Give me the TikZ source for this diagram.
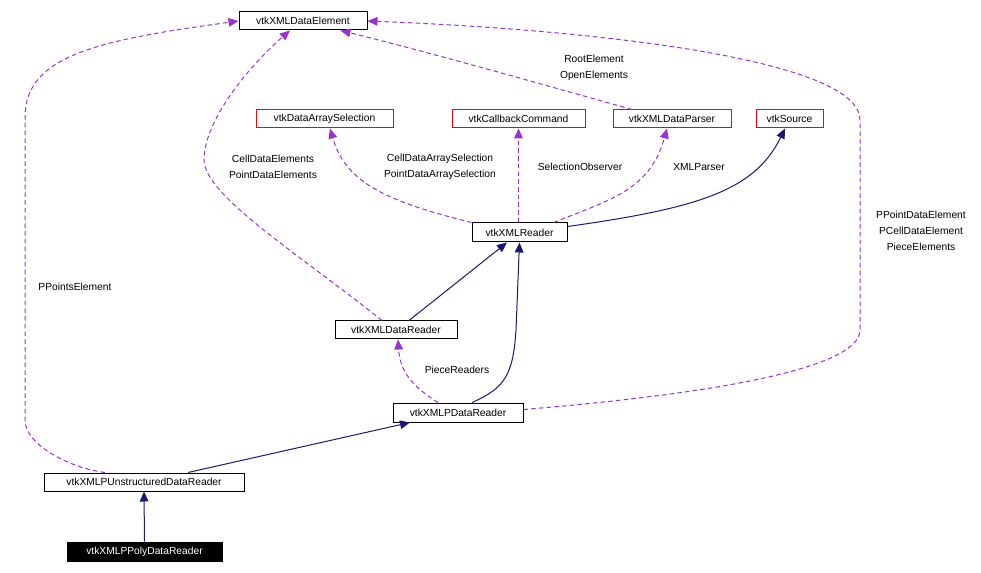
\documentclass[tikz,border=0pt]{standalone}
\usepackage{fontspec}
\setmainfont{Liberation Sans}
\usepackage{tikz}
\usetikzlibrary{arrows.meta,calc}
\definecolor{usecol}{HTML}{9A32CD}
\definecolor{inhcol}{HTML}{191970}
\begin{document}
\begin{tikzpicture}[x=0.75pt,y=-0.75pt,
  cls/.style={draw,rectangle,inner sep=0pt,minimum height=13.5pt,line width=0.75pt,font=\fontsize{7.7}{9}\selectfont},
  ext/.style={cls,draw=red},
  lbl/.style={inner sep=0pt,align=center,font=\fontsize{7.7}{12}\selectfont},
  uses/.style={usecol,line width=0.75pt,dash pattern=on 3.4pt off 2.4pt,-{Triangle[length=7.5pt,width=6.5pt]}},
  isa/.style={inhcol,line width=0.75pt,-{Triangle[length=7.5pt,width=6.5pt]}}]
\useasboundingbox (0,0) rectangle (981,573);
\node[cls,minimum width=96pt] (elem) at (303,21) {vtkXMLDataElement};
\node[ext,minimum width=102.75pt] (das) at (324.5,119) {vtkDataArraySelection};
\node[ext,minimum width=99.75pt] (cbc) at (518.5,119) {vtkCallbackCommand};
\node[ext,minimum width=88.5pt] (parser) at (672,119) {vtkXMLDataParser};
\node[ext,minimum width=50.25pt] (src) at (789.5,119) {vtkSource};
\node[cls,minimum width=71.25pt,minimum height=14.25pt] (reader) at (519.5,232.5) {vtkXMLReader};
\node[cls,minimum width=91.5pt] (dreader) at (396,330) {vtkXMLDataReader};
\node[cls,minimum width=97.5pt,minimum height=14.25pt] (preader) at (458,412.5) {vtkXMLPDataReader};
\node[cls,minimum width=150pt] (ureader) at (144,482) {vtkXMLPUnstructuredDataReader};
\node[cls,minimum width=116.25pt,minimum height=14.25pt,fill=black,text=white] (polyreader) at (144.5,551.5) {vtkXMLPPolyDataReader};
\draw[uses] ($(ureader.north)+(-39,0)$) .. controls (70,468) and (25,445) .. (25,420) -- (25,117) .. controls (25,55) and (100,40) .. (elem.west);
\node[lbl] (lblpoints) at (75,287) {PPointsElement};
\draw[uses] ($(dreader.north)+(-14,0)$) .. controls (300,255) and (204,195) .. (204,160) .. controls (204,120) and (250,65) .. ($(elem.south)+(-13,0)$);
\node[lbl] (lblcell) at (273,167) {CellDataElements\\PointDataElements};
\draw[uses] ($(parser.north)+(-40,0)$) .. controls (520,78) and (420,50) .. ($(elem.south east)+(-27,0)$);
\node[lbl] (lblroot) at (594,68) {RootElement\\OpenElements};
\draw[uses] ($(preader.east)+(0,-3)$) .. controls (700,395) and (860,370) .. (860,330) -- (860,120) .. controls (860,60) and (600,30) .. (elem.east);
\node[lbl] (lblpiece) at (921,231) {PPointDataElement\\PCellDataElement\\PieceElements};
\draw[uses] ($(reader.north west)+(0,0)$) .. controls (380,200) and (345,180) .. ($(das.south)+(5.5,0)$);
\node[lbl] (lblsel) at (440,167) {CellDataArraySelection\\PointDataArraySelection};
\draw[uses] (reader.north -| cbc.south) -- (cbc.south);
\node[lbl] (lblobs) at (580,167) {SelectionObserver};
\draw[uses] ($(reader.north)+(34,0)$) .. controls (610,200) and (650,190) .. ($(parser.south)+(-5,0)$);
\node[lbl] (lblparser) at (699,167) {XMLParser};
\draw[isa] ($(reader.east)+(0,-6)$) .. controls (700,208) and (755,190) .. ($(src.south)+(-4.5,0)$);
\draw[isa] ($(dreader.north)+(13,0)$) -- ($(reader.south)+(-12.5,0)$);
\draw[isa] ($(preader.north)+(14,0)$) .. controls (505,388) and (513,375) .. (516,330) -- (reader.south);
\draw[uses] ($(preader.north)+(-20,0)$) .. controls (410,385) and (400,370) .. ($(dreader.south)+(2,0)$);
\node[lbl] (lblpieces) at (457,370) {PieceReaders};
\draw[isa] ($(ureader.north)+(44,0)$) -- ($(preader.south)+(-48,0)$);
\draw[isa] (polyreader.north) -- (ureader.south);
\end{tikzpicture}
\end{document}
